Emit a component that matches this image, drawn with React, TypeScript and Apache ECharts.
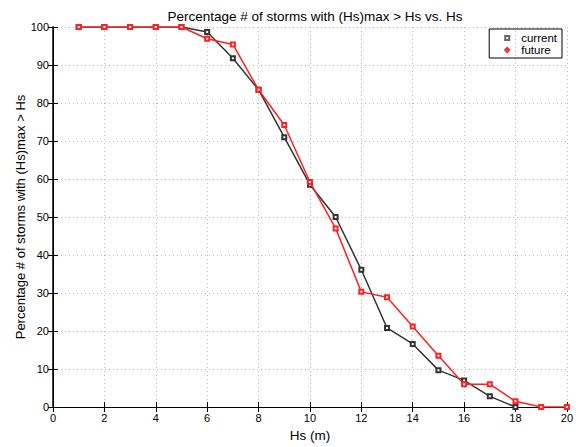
import React, { useEffect, useRef } from "react";
import * as echarts from "echarts";

const hs = [1, 2, 3, 4, 5, 6, 7, 8, 9, 10, 11, 12, 13, 14, 15, 16, 17, 18, 19, 20];
const current = [100, 100, 100, 100, 100, 98.7, 91.8, 83.5, 71.0, 58.5, 50.0, 36.1, 20.8, 16.6, 9.7, 7.0, 2.8, 0];
const future = [100, 100, 100, 100, 100, 96.9, 95.4, 83.5, 74.2, 59.2, 47.0, 30.3, 28.9, 21.2, 13.5, 6.0, 6.0, 1.5, 0, 0];
const xTicks = [0, 2, 4, 6, 8, 10, 12, 14, 16, 18, 20];
const yTicks = [0, 10, 20, 30, 40, 50, 60, 70, 80, 90, 100];

const FONT = "Liberation Sans, Arial, Helvetica, sans-serif";

export default function App() {
  const ref = useRef<HTMLDivElement>(null);
  useEffect(() => {
    if (!ref.current) return;
    const chart = echarts.init(ref.current, undefined, { renderer: "svg" });
    const pair = (ys: number[]) => ys.map((v, i) => [hs[i], v]);
    const axisBase = {
      type: "value" as const,
      axisLine: { show: true, lineStyle: { color: "#000", width: 1 } },
      axisTick: { show: true, inside: true, length: 5, lineStyle: { color: "#000" } },
    };
    chart.setOption({
      animation: false,
      backgroundColor: "#fff",
      textStyle: { fontFamily: FONT },
      title: {
        text: "Percentage # of storms with (Hs)max > Hs vs. Hs",
        left: 310,
        textAlign: "center",
        top: 4,
        textStyle: { fontSize: 13.5, fontWeight: "normal", color: "#000", fontFamily: FONT },
      },
      legend: {
        right: 14,
        top: 29,
        orient: "vertical",
        borderColor: "#000",
        borderWidth: 1,
        padding: [3, 5, 2, 15],
        itemGap: 0,
        itemWidth: 4,
        itemHeight: 4,
        formatter: "{t|{name}}",
        textStyle: {
          fontSize: 11.5,
          lineHeight: 11.5,
          color: "#000",
          fontFamily: FONT,
          rich: { t: { fontSize: 11.5, lineHeight: 11.5, color: "#000", fontFamily: FONT, padding: [0, 0, 0, 7] } },
        },
        data: [
          { name: "current", icon: "emptyRect", itemStyle: { color: "#666", borderColor: "#666", borderWidth: 1 } },
          { name: "future", icon: "emptyDiamond", itemStyle: { color: "#ff2020", borderColor: "#ff2020", borderWidth: 1.2 } },
        ],
      },
      grid: { left: 53, right: 9, top: 27, bottom: 33, containLabel: false },
      xAxis: [
        {
          ...axisBase,
          min: 0,
          max: 20,
          interval: 2,
          position: "bottom",
          name: "Hs (m)",
          nameLocation: "middle",
          nameGap: 21,
          nameMoveOverlap: false,
          nameTextStyle: { fontSize: 13.5, color: "#000", fontFamily: FONT },
          axisLabel: {
            fontSize: 11,
            color: "#000",
            margin: 5,
            customValues: xTicks,
            fontFamily: FONT,
          },
          splitLine: { show: true, lineStyle: { color: "#bbb", type: [1, 3], width: 1 } },
        },
        {
          ...axisBase,
          min: 0,
          max: 20,
          interval: 2,
          position: "top",
          axisLabel: { show: false },
          splitLine: { show: false },
        },
      ],
      yAxis: [
        {
          ...axisBase,
          min: 0,
          max: 100,
          interval: 10,
          position: "left",
          name: "Percentage # of storms with (Hs)max > Hs",
          nameLocation: "middle",
          nameGap: 26,
          nameMoveOverlap: false,
          nameTextStyle: { fontSize: 13, color: "#000", fontFamily: FONT },
          axisLine: { show: true, lineStyle: { color: "#000", width: 1.5 } },
          axisLabel: { fontSize: 11, color: "#000", margin: 4, customValues: yTicks, fontFamily: FONT },
          splitLine: { show: true, lineStyle: { color: "#bbb", type: [1, 3], width: 1 } },
        },
        {
          ...axisBase,
          min: 0,
          max: 100,
          interval: 10,
          position: "right",
          axisLabel: { show: false },
          splitLine: { show: false },
        },
      ],
      series: [
        {
          name: "current",
          type: "line",
          data: pair(current),
          symbol: "emptyRect",
          symbolSize: 4,
          lineStyle: { color: "#333", width: 1.5 },
          itemStyle: { color: "#333", borderColor: "#333", borderWidth: 1 },
          z: 2,
        },
        {
          name: "future",
          type: "line",
          data: pair(future),
          symbol: "emptyRect",
          symbolSize: 4,
          lineStyle: { color: "#ff2020", width: 1.5 },
          itemStyle: { color: "#ff2020", borderColor: "#ff2020", borderWidth: 1 },
          z: 3,
        },
      ],
    });
    return () => chart.dispose();
  }, []);
  return (
    <div
      ref={ref}
      style={{ position: "fixed", left: 0, top: 0, width: 576, height: 447, background: "#fff" }}
    />
  );
}
